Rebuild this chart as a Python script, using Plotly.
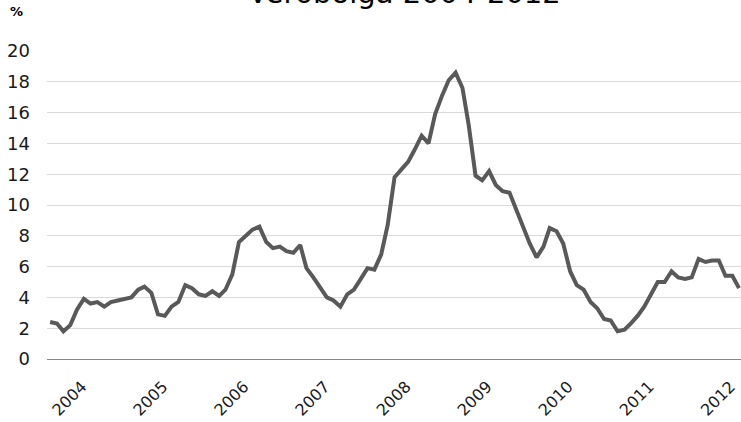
import plotly.graph_objects as go
import pandas as pd

# Monthly 12-month inflation, Jan 2004 - Jul 2012 (%)
inflation_2004 = [2.4, 2.3, 1.8, 2.2, 3.2, 3.9, 3.6, 3.7, 3.4, 3.7, 3.8, 3.9]
inflation_2005 = [4.0, 4.5, 4.7, 4.3, 2.9, 2.8, 3.4, 3.7, 4.8, 4.6, 4.2, 4.1]
inflation_2006 = [4.4, 4.1, 4.5, 5.5, 7.6, 8.0, 8.4, 8.6, 7.6, 7.2, 7.3, 7.0]
inflation_2007 = [6.9, 7.4, 5.9, 5.3, 4.7, 4.0, 3.8, 3.4, 4.2, 4.5, 5.2, 5.9]
inflation_2008 = [5.8, 6.8, 8.7, 11.8, 12.3, 12.8, 13.6, 14.5, 14.0, 15.9, 17.1, 18.1]
inflation_2009 = [18.6, 17.6, 15.2, 11.9, 11.6, 12.2, 11.3, 10.9, 10.8, 9.7, 8.6, 7.5]
inflation_2010 = [6.6, 7.3, 8.5, 8.3, 7.5, 5.7, 4.8, 4.5, 3.7, 3.3, 2.6, 2.5]
inflation_2011 = [1.8, 1.9, 2.3, 2.8, 3.4, 4.2, 5.0, 5.0, 5.7, 5.3, 5.2, 5.3]
inflation_2012 = [6.5, 6.3, 6.4, 6.4, 5.4, 5.4, 4.6]

values = (inflation_2004 + inflation_2005 + inflation_2006 + inflation_2007 +
          inflation_2008 + inflation_2009 + inflation_2010 + inflation_2011 +
          inflation_2012)
months = pd.date_range("2004-01-01", periods=len(values), freq="MS")

year_labels = ["2004", "2005", "2006", "2007", "2008", "2009", "2010", "2011", "2012"]
year_ticks = [f"{y}-05-24" for y in year_labels]
y_ticks = [0, 2, 4, 6, 8, 10, 12, 14, 16, 18, 20]

title_text = "Verðbólga 2004-2012"
unit_text = "%"

FONT = "DejaVu Sans, Verdana, sans-serif"
PLOT_H = 308  # plot-area height in px (margins t=51, b=63)

fig = go.Figure()
fig.add_trace(go.Scatter(
    x=months, y=values, mode="lines",
    line=dict(color="#595959", width=4, shape="linear"),
    hoverinfo="x+y", showlegend=False, cliponaxis=False,
))

fig.update_layout(
    width=741, height=422,
    margin=dict(l=47, r=0, t=51, b=63, autoexpand=False),
    paper_bgcolor="white", plot_bgcolor="white",
    font=dict(family=FONT, color="#1a1a1a", size=18),
    xaxis=dict(
        type="date",
        range=["2003-12-18", "2012-07-10"],
        tickmode="array", tickvals=year_ticks, ticktext=year_labels,
        tickangle=-45, ticks="", showgrid=False,
        showline=True, linecolor="#868686", linewidth=1,
        zeroline=False, ticklabelstandoff=11, automargin=False,
        ticklabeloverflow="allow",
        tickfont=dict(family=FONT, size=16, color="#1a1a1a"),
    ),
    yaxis=dict(
        range=[0, 20], tickmode="array", tickvals=y_ticks,
        showgrid=True, gridcolor="#d9d9d9", gridwidth=1,
        zeroline=False, showline=False, ticks="",
        ticklabelstandoff=16, automargin=False,
        tickfont=dict(family=FONT, size=18, color="#1a1a1a"),
    ),
    annotations=[
        dict(text=title_text, xref="paper", yref="paper",
             x=0.515, y=(359 + 7) / PLOT_H,
             xanchor="center", yanchor="middle", showarrow=False,
             font=dict(family=FONT, size=29, color="#000000")),
        dict(text=f"<b>{unit_text}</b>", xref="paper", yref="paper",
             x=(16 - 47) / 694, y=(359 - 12) / PLOT_H,
             xanchor="center", yanchor="middle", showarrow=False,
             font=dict(family=FONT, size=13, color="#000000")),
    ],
)

fig.write_html(
    "out.html",
    config={"displayModeBar": False},
    post_script="document.body.style.margin='0';document.body.style.overflow='hidden';",
)
